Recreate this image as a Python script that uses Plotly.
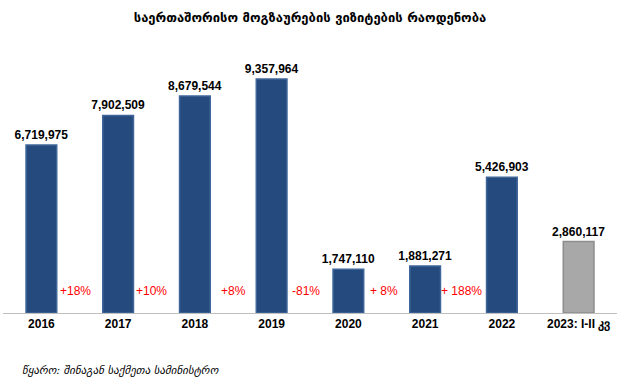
import plotly.graph_objects as go

categories = ["2016", "2017", "2018", "2019", "2020", "2021", "2022", "2023: I-II კვ"]
visits = [6719975, 7902509, 8679544, 9357964, 1747110, 1881271, 5426903, 2860117]
value_labels = ["6,719,975", "7,902,509", "8,679,544", "9,357,964", "1,747,110", "1,881,271", "5,426,903", "2,860,117"]
changes = ["+18%", "+10%", "+8%", "-81%", "+ 8%", "+ 188%"]
change_pos = [0.44, 1.44, 2.5, 3.45, 4.47, 5.47]

title = "საერთაშორისო მოგზაურების ვიზიტების რაოდენობა"
source = "წყარო: შინაგან საქმეთა სამინისტრო"

colors = ["#244A7E"] * 7 + ["#A8A8A8"]
edges = ["#3F6699"] * 7 + ["#8C8C8C"]

fig = go.Figure()
fig.add_trace(go.Bar(
    x=list(range(len(categories))), y=visits,
    marker=dict(color=colors, line=dict(color=edges, width=1.5)),
    width=0.4,
    text=value_labels, textposition="outside", constraintext="none",
    textfont=dict(family="Liberation Sans", size=12, color="black", weight="bold"),
    cliponaxis=False, hoverinfo="skip",
))

for xp, t in zip(change_pos, changes):
    fig.add_annotation(x=xp, y=880000, text=t, showarrow=False,
                       font=dict(family="Liberation Sans", size=12, color="#FF0000"))

fig.update_layout(
    width=620, height=381,
    margin=dict(l=3, r=3, t=50, b=68),
    plot_bgcolor="white", paper_bgcolor="white",
    showlegend=False,
    title=dict(text=title, x=0.5, xanchor="center", y=0.953, yanchor="middle",
               font=dict(family="DejaVu Sans", size=13, color="black", weight="bold")),
    xaxis=dict(tickmode="array", tickvals=list(range(len(categories))), ticktext=categories,
               range=[-0.5, 7.5], showline=True, linecolor="#BFBFBF", linewidth=1,
               ticks="", showgrid=False, automargin=False,
               tickfont=dict(family="Liberation Sans", size=12, color="black", weight="bold")),
    yaxis=dict(range=[0, 10520000], visible=False, showgrid=False),
)
fig.add_annotation(x=0.028, y=-0.217, xref="paper", yref="paper", xanchor="left", yanchor="middle",
                   text="<i>" + source + "</i>", showarrow=False,
                   font=dict(family="DejaVu Sans", size=11, color="black"))

fig.write_html("out.html", config={"displayModeBar": False},
               post_script="document.body.style.margin='0';")
